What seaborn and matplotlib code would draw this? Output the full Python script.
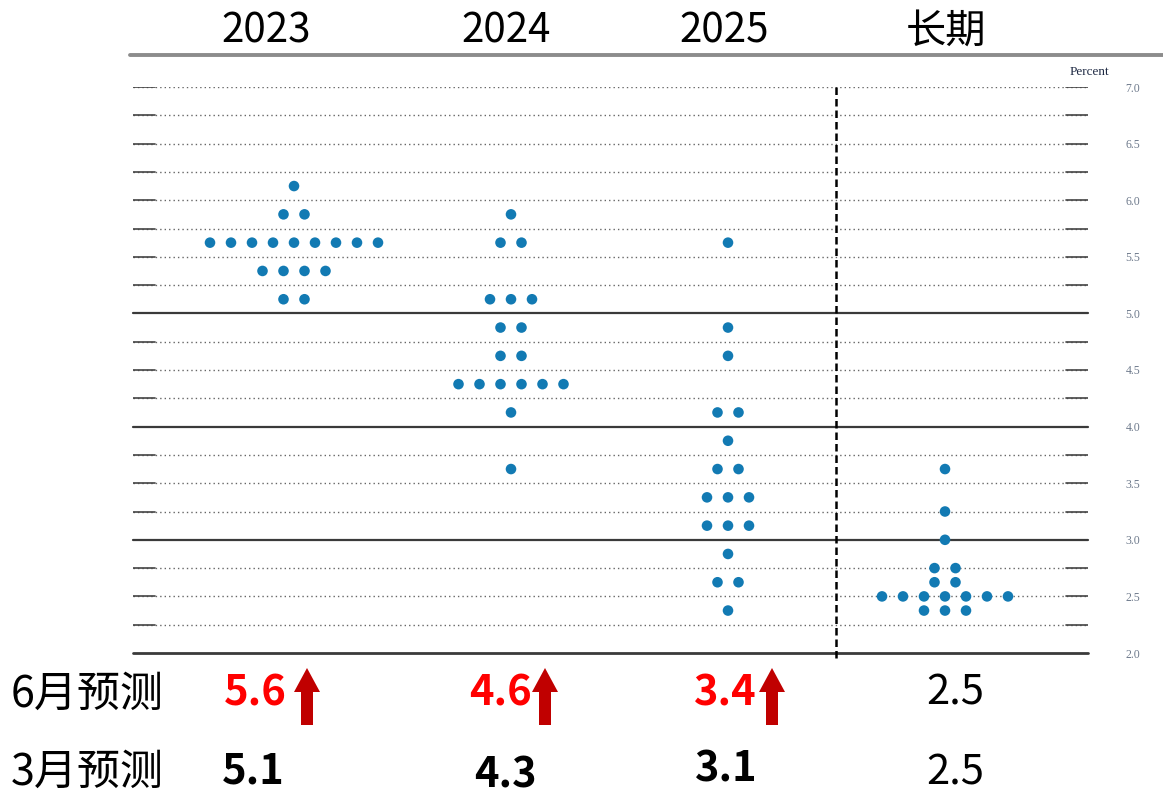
import matplotlib
matplotlib.use("Agg")
import matplotlib.pyplot as plt
import seaborn as sns
import pandas as pd
import numpy as np
from matplotlib.patches import FancyArrow

# ---------------- data ----------------
categories = ["2023", "2024", "2025", "长期"]

rates_2023 = [6.125, 5.875, 5.625, 5.375, 5.125]
counts_2023 = [1, 2, 9, 4, 2]

rates_2024 = [5.875, 5.625, 5.125, 4.875, 4.625, 4.375, 4.125, 3.625]
counts_2024 = [1, 2, 3, 2, 2, 6, 1, 1]

rates_2025 = [5.625, 4.875, 4.625, 4.125, 3.875, 3.625, 3.375, 3.125, 2.875, 2.625, 2.375]
counts_2025 = [1, 1, 1, 2, 1, 2, 3, 3, 1, 2, 1]

rates_long = [3.625, 3.25, 3.0, 2.75, 2.625, 2.5, 2.375]
counts_long = [1, 1, 1, 2, 2, 7, 3]

row_labels = ["6月预测", "3月预测"]
june_medians = ["5.6", "4.6", "3.4", "2.5"]
march_medians = ["5.1", "4.3", "3.1", "2.5"]
june_up = [True, True, True, False]

y_ticks = [2.0, 2.5, 3.0, 3.5, 4.0, 4.5, 5.0, 5.5, 6.0, 6.5, 7.0]

# ---------------- figure ----------------
sns.set_theme(style="white")
plt.rcParams["font.family"] = ["Noto Sans CJK SC", "DejaVu Sans"]

W, H = 1163, 795
fig = plt.figure(figsize=(W / 100, H / 100), dpi=100)

# overlay for header/footer text (pixel coordinates)
ov = fig.add_axes([0, 0, 1, 1])
ov.set_xlim(0, W)
ov.set_ylim(H, 0)
ov.axis("off")

ax = fig.add_axes([133 / W, 1 - 653 / H, (1088 - 133) / W, (653 - 87) / H])
ax.set_facecolor("none")
ax.set_xlim(-161 / 217, (1088 - 294) / 217)
ax.set_ylim(2.0, 7.0)

spacing = 21 / 217
rows = []
for ci, (rates, counts) in enumerate([(rates_2023, counts_2023), (rates_2024, counts_2024),
                                      (rates_2025, counts_2025), (rates_long, counts_long)]):
    for r, n in zip(rates, counts):
        for i in range(n):
            rows.append({"cat": categories[ci], "x": ci + (i - (n - 1) / 2) * spacing, "y": r})
df = pd.DataFrame(rows)

# grid lines
end_frac = 22 / 955
for v in np.arange(2.0, 7.0001, 0.25):
    if abs(v - round(v)) < 1e-9 and v <= 5.0:
        ax.axhline(v, color="#3a3a3a", lw=2.0 if v == 2.0 else 1.6, zorder=1, clip_on=False)
    else:
        ax.axhline(v, color="#666666", lw=1.0, ls=(0, (1, 2.2)), zorder=1)
        ax.axhline(v, xmin=0, xmax=end_frac, color="#444444", lw=1.2, zorder=1)
        ax.axhline(v, xmin=1 - end_frac, xmax=1, color="#444444", lw=1.2, zorder=1)

# dashed separator
ax.plot([2.5, 2.5], [7.0, 1.955], color="black", lw=1.8, ls=(0, (3, 1.6)), clip_on=False, zorder=2)

sns.scatterplot(data=df, x="x", y="y", color="#127AB3", s=58, edgecolor="none",
                ax=ax, legend=False, zorder=3, clip_on=False)

for s in ax.spines.values():
    s.set_visible(False)
ax.set_xlabel("")
ax.set_ylabel("")
ax.set_xticks([])
ax.yaxis.tick_right()
ax.set_yticks(y_ticks)
ax.set_yticklabels([f"{t:.1f}" for t in y_ticks], family="Liberation Serif",
                   fontsize=8.5, color="#6E7A8C")
ax.tick_params(axis="y", length=0, pad=27)

# Percent label
ov.text(1089, 72, "Percent", ha="center", va="center", family="Liberation Serif",
        fontsize=9.5, color="#1F2A44")

# header line and titles
ov.plot([130, 1163], [55, 55], color="#8C8C8C", lw=2.8)
header_x = [266, 506, 724, 946]
for x, c in zip(header_x, categories):
    ov.text(x, 31, c, ha="center", va="center", fontsize=29, color="black")

# bottom rows
ov.text(11, 695, row_labels[0], ha="left", va="center", fontsize=31, color="black")
ov.text(11, 773, row_labels[1], ha="left", va="center", fontsize=31, color="black")

june_x = [255, 500, 725, 955]
march_x = [253, 505, 726, 955]
march_y = [772, 775, 770, 773]
arrow_x = [307, 545, 772]
for i in range(4):
    if june_up[i]:
        ov.text(june_x[i], 693, june_medians[i], ha="center", va="center", fontsize=30,
                fontweight="bold", color="#FF0000")
        ov.add_patch(FancyArrow(arrow_x[i], 725, 0, -57, width=12, head_width=26,
                                head_length=24, length_includes_head=True,
                                color="#C00000", lw=0))
        ov.text(march_x[i], march_y[i], march_medians[i], ha="center", va="center",
                fontsize=30, fontweight="bold", color="black")
    else:
        ov.text(june_x[i], 693, june_medians[i], ha="center", va="center", fontsize=30,
                color="black")
        ov.text(march_x[i], march_y[i], march_medians[i], ha="center", va="center",
                fontsize=30, color="black")

fig.savefig("out.png", dpi=100)
